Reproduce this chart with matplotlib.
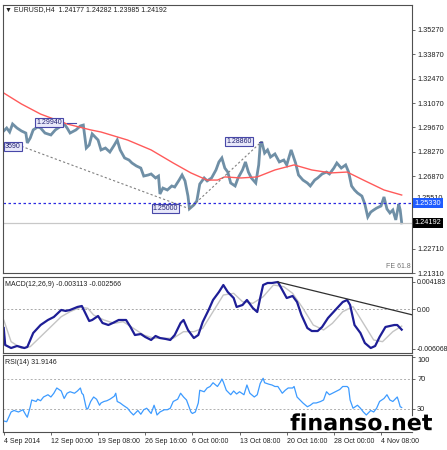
import numpy as np
import matplotlib.pyplot as plt
import matplotlib.patheffects as pe

plt.rcParams['font.family'] = ['Liberation Sans', 'DejaVu Sans']

# EURUSD H4 closes (bar index -> price)
price_bars = [0, 2, 4, 6, 9, 12, 15, 16, 18, 20, 23, 25, 28, 32, 35, 39, 41, 43, 45, 49,
              52, 54, 56, 58, 60, 64, 66, 69, 72, 75, 77, 79, 82, 85, 87, 90, 93, 95, 98, 100,
              103, 105, 106, 108, 111, 114, 116, 119, 121, 123, 125, 126, 129, 131, 133, 136, 138, 141, 144, 146,
              148, 150, 152, 154, 157, 159, 162, 164, 166, 168, 171, 173, 174, 175, 177, 179, 181, 184, 187, 190,
              192, 195, 198, 200, 203, 206, 208, 211, 213, 216, 219, 221, 224, 226, 229, 232, 234, 236, 238, 240,
              243, 245, 247, 249, 251, 253, 256, 258, 260, 262, 264, 266, 268, 269, 270]
price_close = [1.2947, 1.2964, 1.2941, 1.2987, 1.2964, 1.2947, 1.2935, 1.2878, 1.2907, 1.2953,
               1.2970, 1.2964, 1.2935, 1.2924, 1.2953, 1.2976, 1.2987, 1.2964, 1.2935, 1.2953,
               1.2976, 1.2981, 1.2849, 1.2866, 1.2930, 1.2895, 1.2838, 1.2849, 1.2826, 1.2866,
               1.2895, 1.2838, 1.2792, 1.2780, 1.2763, 1.2746, 1.2734, 1.2688, 1.2694, 1.2700,
               1.2677, 1.2688, 1.2585, 1.2619, 1.2608, 1.2631, 1.2625, 1.2665, 1.2694, 1.2660,
               1.2573, 1.2500, 1.2522, 1.2545, 1.2642, 1.2677, 1.2660, 1.2677, 1.2723, 1.2769,
               1.2792, 1.2734, 1.2711, 1.2648, 1.2631, 1.2677, 1.2723, 1.2769, 1.2711, 1.2677,
               1.2648, 1.2752, 1.2866, 1.2886, 1.2820, 1.2838, 1.2797, 1.2815, 1.2769, 1.2780,
               1.2752, 1.2838, 1.2763, 1.2694, 1.2665, 1.2648, 1.2631, 1.2665, 1.2677, 1.2700,
               1.2711, 1.2700, 1.2734, 1.2763, 1.2734, 1.2752, 1.2711, 1.2631, 1.2608, 1.2591,
               1.2573, 1.2527, 1.2453, 1.2481, 1.2493, 1.2504, 1.2516, 1.2568, 1.2499, 1.2476,
               1.2493, 1.2436, 1.2527, 1.2493, 1.24192]

ma_bars = [0, 12, 25, 43, 59, 66, 84, 100, 115, 127, 138, 145, 150, 161, 172, 184, 197, 209, 222, 233, 244, 258, 270]
ma_vals = [1.3165, 1.3102, 1.3044, 1.2987, 1.2953, 1.2941, 1.2895, 1.2838, 1.2763, 1.2706, 1.2665, 1.2665,
           1.2683, 1.2677, 1.2683, 1.2723, 1.2752, 1.2723, 1.2706, 1.2711, 1.2665, 1.2608, 1.2579]

# Fibonacci expansion anchors
fe_bars = [12, 126, 175]
fe_prices = [1.28590, 1.25000, 1.28860]
level_blue = 1.25330
level_last = 1.24192

macd_bars = [0, 1, 5, 9, 14, 16, 20, 25, 30, 34, 39, 42, 45, 50, 53, 56, 58, 60, 64, 67,
             71, 74, 78, 83, 86, 89, 93, 96, 100, 103, 106, 110, 113, 116, 120, 122, 125, 129, 132, 135,
             139, 142, 146, 149, 152, 156, 158, 162, 165, 169, 172, 174, 176, 179, 182, 186, 189, 192, 196, 199,
             202, 206, 209, 213, 216, 220, 225, 230, 233, 235, 238, 242, 245, 249, 252, 255, 259, 262, 265, 267, 270]
macd_vals = [-0.00286, -0.00546, -0.00592, -0.00561, -0.00592, -0.00576, -0.00362, -0.00240, -0.00163, -0.00117,
             -0.00010, -0.00025, -0.00010, 0.00036, 0.00051, -0.00087, -0.00179, -0.00163, -0.00102, -0.00209,
             -0.00240, -0.00209, -0.00163, -0.00163, -0.00270, -0.00393, -0.00378, -0.00423, -0.00469, -0.00408,
             -0.00439, -0.00454, -0.00469, -0.00393, -0.00209, -0.00163, -0.00316, -0.00439, -0.00393, -0.00194,
             -0.00010, 0.00143, 0.00265, 0.00372, 0.00265, 0.00173, 0.00036, 0.00066, 0.00143, 0.00020,
             -0.00041, 0.00173, 0.00372, 0.00403, 0.00403, 0.00418, 0.00296, 0.00173, 0.00204, 0.00112,
             -0.00087, -0.00286, -0.00332, -0.00332, -0.00270, -0.00133, -0.00010, 0.00112, 0.00143, 0.00066,
             -0.00240, -0.00362, -0.00515, -0.00592, -0.00561, -0.00423, -0.00270, -0.00255, -0.00240, -0.00240, -0.00311]
signal_bars = [0, 5, 12, 18, 25, 32, 39, 45, 52, 57, 61, 68, 75, 81, 88, 95, 102, 108, 115, 122,
               129, 135, 142, 149, 156, 162, 169, 176, 183, 190, 196, 203, 210, 217, 223, 230, 237, 244, 251, 257, 264, 270]
signal_vals = [-0.00163, -0.00495, -0.00596, -0.00571, -0.00419, -0.00266, -0.00113, -0.00036, 0.00031, 0.00016,
               -0.00087, -0.00163, -0.00214, -0.00189, -0.00290, -0.00393, -0.00443, -0.00443, -0.00443, -0.00342,
               -0.00342, -0.00290, -0.00036, 0.00219, 0.00245, 0.00117, 0.00092, 0.00193, 0.00372, 0.00347,
               0.00245, 0.00016, -0.00240, -0.00316, -0.00214, -0.00036, 0.00041, -0.00214, -0.00469, -0.00495,
               -0.00342, -0.00257]
macd_trend_bars = [186, 278]
macd_trend_vals = [0.00418, -0.00089]

rsi_bars = [0, 2, 5, 7, 10, 13, 15, 16, 18, 19, 22, 23, 25, 27, 30, 32, 34, 36, 39, 40,
            41, 43, 45, 48, 50, 52, 53, 54, 56, 57, 59, 61, 63, 65, 66, 68, 70, 72, 75, 76,
            77, 79, 81, 84, 86, 88, 91, 93, 95, 97, 100, 102, 103, 104, 106, 109, 111, 113, 115, 118,
            120, 122, 124, 127, 128, 130, 132, 133, 136, 138, 140, 142, 145, 147, 148, 149, 151, 154, 156, 158,
            160, 163, 165, 167, 170, 172, 174, 176, 177, 180, 182, 184, 186, 189, 191, 193, 196, 197, 199, 201,
            203, 206, 208, 210, 212, 215, 217, 219, 221, 224, 226, 228, 230, 233, 234, 235, 237, 240, 242, 244,
            246, 249, 251, 253, 255, 258, 260, 262, 264, 267, 268, 269, 270]
rsi_vals = [14, 13, 26, 28, 26, 29, 22, 19, 33, 42, 40, 43, 41, 46, 49, 46, 51, 58, 54, 49,
            44, 51, 53, 51, 54, 58, 51, 49, 31, 30, 40, 46, 43, 35, 38, 40, 41, 43, 47, 51,
            40, 38, 35, 31, 26, 22, 28, 23, 29, 31, 24, 35, 29, 22, 26, 29, 29, 31, 40, 43,
            51, 46, 42, 26, 24, 26, 38, 55, 53, 58, 60, 65, 60, 66, 70, 66, 55, 49, 54, 50,
            53, 49, 62, 51, 46, 49, 64, 71, 65, 63, 62, 60, 60, 51, 55, 58, 58, 60, 46, 42,
            38, 33, 35, 38, 38, 40, 42, 53, 49, 52, 54, 56, 60, 60, 58, 42, 31, 35, 31, 26,
            22, 28, 26, 31, 40, 44, 49, 42, 40, 46, 40, 33, 32]

date_bars = [0, 32, 64, 96, 128, 160, 192, 224, 256]
date_labels = ['4 Sep 2014', '12 Sep 00:00', '19 Sep 08:00', '26 Sep 16:00', '6 Oct 00:00',
               '13 Oct 08:00', '20 Oct 16:00', '28 Oct 00:00', '4 Nov 08:00']
price_ticks = [1.35270, 1.33870, 1.32470, 1.31070, 1.29670, 1.28270, 1.26870, 1.22710, 1.21310]

FRAME = '#505050'
TXT = '#202020'
FS = 5

fig = plt.figure(figsize=(4.47, 4.5), dpi=100)
ax = fig.add_axes([0.0067, 0.3933, 0.915, 0.5956])
ax_m = fig.add_axes([0.0067, 0.2156, 0.915, 0.1689], sharex=ax)
ax_r = fig.add_axes([0.0067, 0.0400, 0.915, 0.1711], sharex=ax)

for a in (ax, ax_m, ax_r):
    for s in a.spines.values():
        s.set_color(FRAME)
        s.set_linewidth(0.8)
    a.yaxis.tick_right()
    a.tick_params(axis='y', direction='out', length=2.5, width=0.6, color=FRAME,
                  labelsize=5.3, labelcolor=TXT, pad=1.2)
    a.tick_params(axis='x', bottom=False, labelbottom=False)

# ---- price panel
ax.plot(price_bars, price_close, color='#6f8fa6', lw=2.0, solid_joinstyle='miter')
ax.plot(ma_bars, ma_vals, color='#ff5a5a', lw=1.0)
ax.axhline(level_blue, color='#2a2ae0', lw=0.9, ls=(0, (2, 2)))
ax.axhline(level_last, color='#c8c8c8', lw=0.9)
ax.plot(fe_bars[:2], fe_prices[:2], color='#808080', lw=0.8, ls=(0, (2, 2)))
ax.plot(fe_bars[1:], fe_prices[1:], color='#808080', lw=0.8, ls=(0, (2, 2)))

box = dict(boxstyle='square,pad=0.15', fc='#e8e8fa', ec='#4848a8', lw=0.8)
ax.text(22, 1.29940, '1.29940', fontsize=FS, color='#202070', ha='left', va='center', bbox=box)
ax.plot([43, 49], [1.29940, 1.29940], color='#4848a8', lw=0.8)
ax.text(151, 1.28860, '1.28860', fontsize=FS, color='#202070', ha='left', va='center', bbox=box)
ax.plot([173, 175], [1.28860, 1.28860], color='#4848a8', lw=0.8)
ax.text(101, 1.25000, '1.25000', fontsize=FS, color='#202070', ha='left', va='center', bbox=box)
ax.text(11.5, 1.28590, '3590', fontsize=FS, color='#202070', ha='right', va='center', bbox=box)

ax.set_ylim(1.21310, 1.36706)
ax.set_yticks(price_ticks)
ax.set_yticklabels([f'{v:.5f}' for v in price_ticks])

yt = ax.get_yaxis_transform()
# the half-hidden 1.25510 scale label peeking out above the blue level tag
ax.text(1.012, 1.25600, '1.25510', transform=yt, fontsize=5.3, color=TXT,
        ha='left', va='center', clip_on=False, zorder=4)
ax.text(1.007, level_blue, f'{level_blue:.5f}', transform=yt, fontsize=5.3, color='white',
        ha='left', va='center', clip_on=False, zorder=5,
        bbox=dict(boxstyle='square,pad=0.25', fc='#1f5cff', ec='none'))
ax.text(1.007, level_last, f'{level_last:.5f}', transform=yt, fontsize=5.3, color='white',
        ha='left', va='center', clip_on=False, zorder=5,
        bbox=dict(boxstyle='square,pad=0.25', fc='black', ec='none'))

ax.text(0.006, 0.982, '\u25bc EURUSD,H4  1.24177 1.24282 1.23985 1.24192', transform=ax.transAxes,
        fontsize=FS, color=TXT, ha='left', va='center')
ax.text(0.997, 0.025, 'FE 61.8', transform=ax.transAxes, fontsize=FS, color='#707070',
        ha='right', va='center')

# ---- MACD panel
ax_m.axhline(0, color='#a8a8a8', lw=0.7, ls=(0, (2, 2)))
ax_m.plot(signal_bars, signal_vals, color='#c4c4c4', lw=1.0)
ax_m.plot(macd_bars, macd_vals, color='#1e1e96', lw=1.6)
ax_m.plot(macd_trend_bars, macd_trend_vals, color='#303030', lw=0.9)
ax_m.set_ylim(-0.00668, 0.00495)
ax_m.set_yticks([0.004183, 0.0, -0.006068])
ax_m.set_yticklabels(['0.004183', '0.00', '-0.006068'])
ax_m.tick_params(axis='y', labelsize=5.0)
ax_m.text(0.006, 0.9, 'MACD(12,26,9) -0.003113 -0.002566', transform=ax_m.transAxes,
          fontsize=FS, color=TXT, ha='left', va='center')

# ---- RSI panel
for lv in (70, 30):
    ax_r.axhline(lv, color='#b0b0b0', lw=0.7, ls=(0, (2, 2)))
ax_r.plot(rsi_bars, rsi_vals, color='#3d9bff', lw=0.9)
ax_r.set_ylim(-0.7, 102)
ax_r.set_yticks([100, 70, 30])
ax_r.set_yticklabels(['100', '70', '30'])
ax_r.get_yticklabels()[0].set_va('top')
ax_r.text(0.006, 0.9, 'RSI(14) 31.9146', transform=ax_r.transAxes,
          fontsize=FS, color=TXT, ha='left', va='center')

ax_r.set_xlim(-0.5, 277)
ax_r.set_xticks(date_bars)
ax_r.set_xticklabels(date_labels)
ax_r.tick_params(axis='x', bottom=True, labelbottom=True, direction='out', length=2.5,
                 width=0.6, color=FRAME, labelsize=FS, labelcolor=TXT, pad=1.5)
for lab in ax_r.get_xticklabels():
    lab.set_ha('left')

fig.text(0.649, 0.044, 'finanso.net', fontsize=16, fontweight='bold', family='DejaVu Sans',
         color='black', ha='left', va='baseline',
         path_effects=[pe.withStroke(linewidth=2.5, foreground='white')])

fig.savefig('out.png', dpi=100, facecolor='white')
